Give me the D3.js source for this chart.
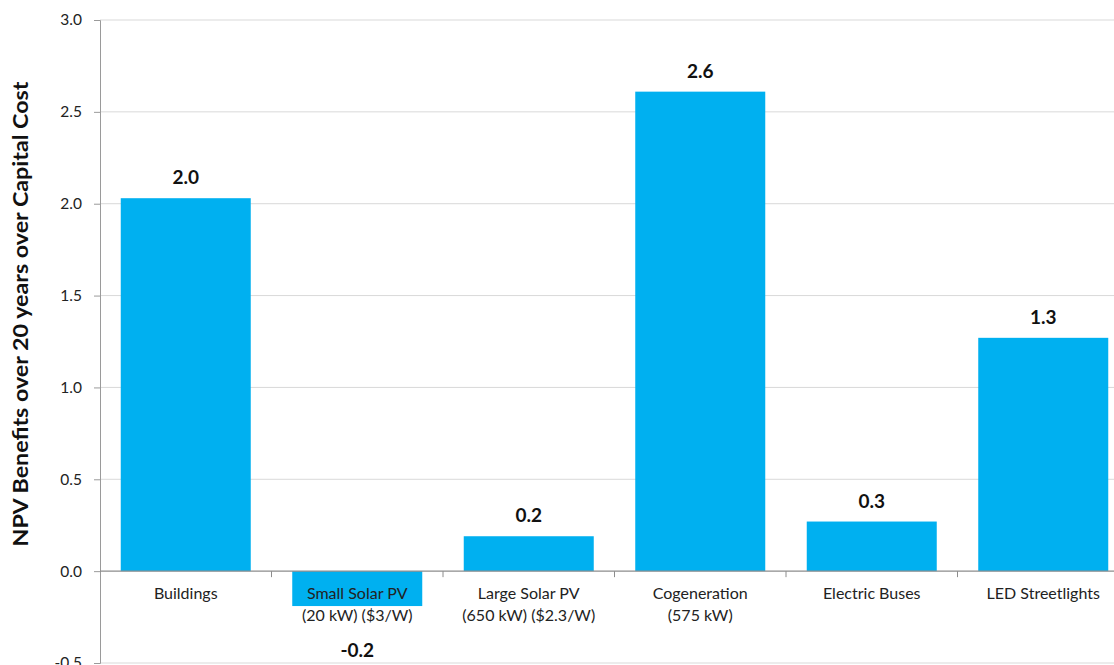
<!DOCTYPE html>
<html>
<head>
<meta charset="utf-8">
<script src="https://cdn.jsdelivr.net/npm/d3@7"></script>
<style>
  html, body { margin: 0; padding: 0; background: #fff; }
  svg { display: block; font-family: Lato, "Open Sans", sans-serif; }
</style>
</head>
<body>
<svg id="chart" width="1114" height="665"></svg>
<script>
// Project categories (each entry split into label lines)
const categories = ["Buildings", "Small Solar PV", "Large Solar PV", "Cogeneration", "Electric Buses", "LED Streetlights"];
const categoryLines = [
  ["Buildings"],
  ["Small Solar PV", "(20 kW) ($3/W)"],
  ["Large Solar PV", "(650 kW) ($2.3/W)"],
  ["Cogeneration", "(575 kW)"],
  ["Electric Buses"],
  ["LED Streetlights"]
];
// NPV benefits over 20 years divided by capital cost
const npvRatio = [2.03, -0.19, 0.19, 2.61, 0.27, 1.27];
const yTicks = [-0.5, 0.0, 0.5, 1.0, 1.5, 2.0, 2.5, 3.0];
const yTitle = "NPV Benefits over 20 years over Capital Cost";

const svg = d3.select("#chart");
const barColor = "#00b0f0";

const x = d3.scaleBand()
  .domain(categories)
  .range([100, 1129])
  .paddingInner(0.242)
  .paddingOuter(0.121);

const y = d3.scaleLinear().domain([-0.5, 3.0]).range([663, 20]);

// one-decimal format with a plain hyphen for negatives
const fmt = d3.formatLocale({decimal: ".", thousands: ",", grouping: [3], currency: ["", ""], minus: "-"}).format(".1f");

// horizontal gridlines
svg.append("g")
  .selectAll("line")
  .data(yTicks.filter(t => t !== 0))
  .join("line")
  .attr("x1", 100).attr("x2", 1114)
  .attr("y1", d => y(d)).attr("y2", d => y(d))
  .attr("stroke", "#d9d9d9").attr("stroke-width", 1);

// y axis
const yAxis = svg.append("g")
  .attr("transform", "translate(100,0)")
  .call(d3.axisLeft(y).tickValues(yTicks).tickFormat(fmt).tickSize(6).tickPadding(12));
yAxis.select(".domain").attr("stroke", "#9a9a9a");
yAxis.selectAll(".tick line").attr("stroke", "#9a9a9a");
yAxis.selectAll(".tick text")
  .attr("fill", "#222")
  .style("font-size", "15.5px")
  .style("font-family", "Lato, 'Open Sans', sans-serif");

// bars
svg.append("g")
  .selectAll("rect")
  .data(npvRatio)
  .join("rect")
  .attr("x", (d, i) => x(categories[i]))
  .attr("width", x.bandwidth())
  .attr("y", d => y(Math.max(0, d)))
  .attr("height", d => Math.abs(y(d) - y(0)))
  .attr("fill", barColor);

// zero baseline with category separators
const step = x.step();
const gap = step - x.bandwidth();
svg.append("line")
  .attr("x1", 100).attr("x2", 1114)
  .attr("y1", y(0)).attr("y2", y(0))
  .attr("stroke", "#8c8c8c").attr("stroke-width", 1.2);
svg.append("g")
  .selectAll("line")
  .data(categories.slice(1))
  .join("line")
  .attr("x1", d => x(d) - gap / 2).attr("x2", d => x(d) - gap / 2)
  .attr("y1", y(0)).attr("y2", y(0) + 6)
  .attr("stroke", "#8c8c8c").attr("stroke-width", 1);

// category labels
const catG = svg.append("g");
categoryLines.forEach((lines, i) => {
  const cx = x(categories[i]) + x.bandwidth() / 2;
  const t = catG.append("text")
    .attr("x", cx)
    .attr("y", y(0) + 28)
    .attr("text-anchor", "middle")
    .attr("fill", "#222")
    .style("font-size", "16px");
  lines.forEach((ln, j) => {
    t.append("tspan")
      .attr("x", cx)
      .attr("dy", j === 0 ? 0 : 22)
      .text(ln);
  });
});

// value labels
svg.append("g")
  .selectAll("text")
  .data(npvRatio)
  .join("text")
  .attr("x", (d, i) => x(categories[i]) + x.bandwidth() / 2)
  .attr("y", d => d >= 0 ? y(d) - 14 : y(d) + 51)
  .attr("text-anchor", "middle")
  .attr("fill", "#111")
  .style("font-size", "19px")
  .style("font-weight", "bold")
  .text(d => fmt(d));

// y axis title
svg.append("text")
  .attr("transform", "translate(28,314) rotate(-90)")
  .attr("text-anchor", "middle")
  .attr("fill", "#111")
  .attr("textLength", 465)
  .attr("lengthAdjust", "spacingAndGlyphs")
  .style("font-size", "21px")
  .style("font-weight", "bold")
  .text(yTitle);
</script>
</body>
</html>
